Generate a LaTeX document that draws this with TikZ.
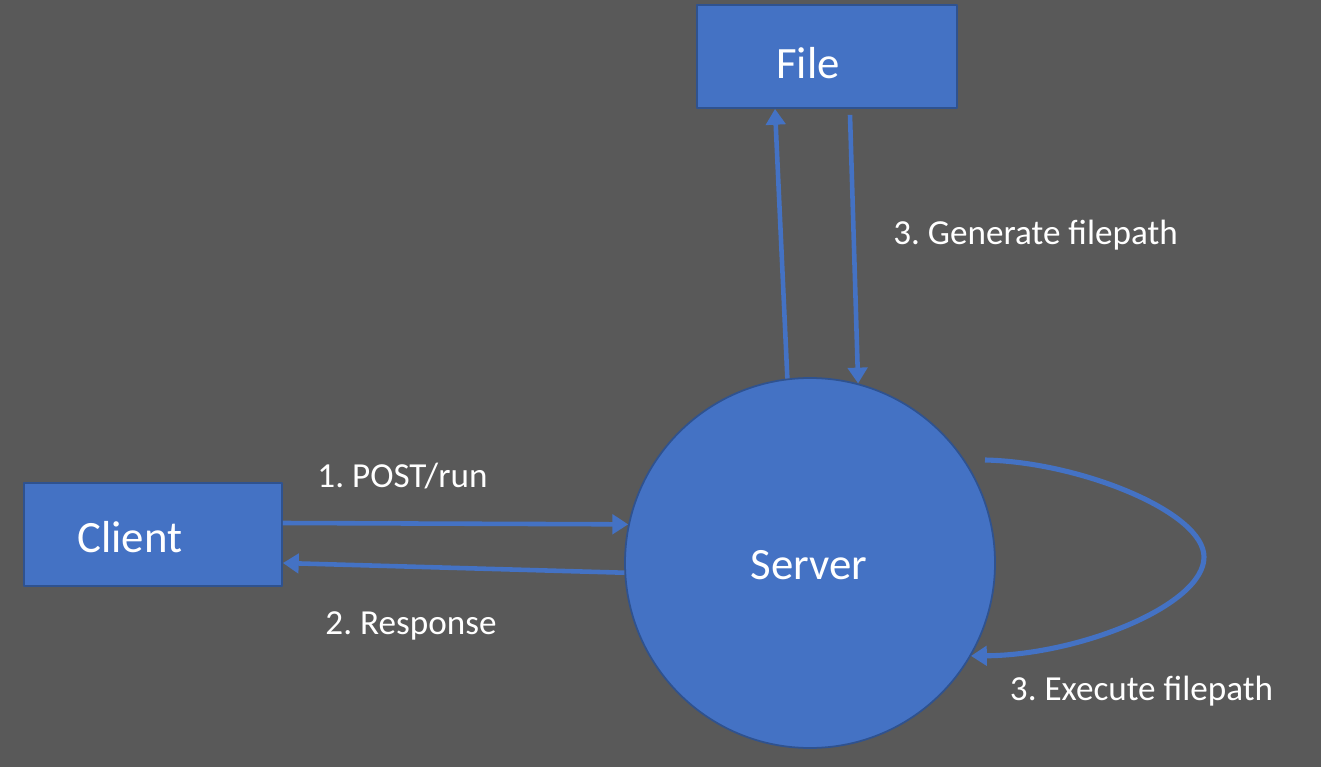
\documentclass[tikz,border=0pt]{standalone}
\usepackage{fontspec}
\setmainfont{Carlito}
\usetikzlibrary{arrows.meta}
\definecolor{slide}{HTML}{595959}
\definecolor{accent}{HTML}{4472C4}
\definecolor{accentdark}{HTML}{2F528F}
\frenchspacing
\tikzset{
  box/.style={draw=accentdark,line width=1pt,fill=accent,minimum height=20.6mm},
  srv/.style={circle,draw=accentdark,line width=1pt,fill=accent,minimum size=74mm},
  big/.style={text=white,inner sep=0pt,font=\fontsize{25.5}{30}\selectfont},
  lbl/.style={text=white,inner sep=0pt,font=\fontsize{20}{24}\selectfont},
  flow/.style={draw=accent,line width=2.6pt,->}
}
\begin{document}
\begin{tikzpicture}[x=0.2mm,y=0.2mm,>={Triangle[length=9pt,width=11pt]},line join=round]
\fill[slide] (0,0) rectangle (1321,767);
\path
(985,307) coordinate (loopin)
(1204,210) coordinate (loopright)
;
% boxes and the server
\node[box,minimum width=52mm] (file) at (827,710.5) {};
\node[box,minimum width=51.6mm] (client) at (153,232.5) {};
\node[srv] (server) at (810,204) {};
\foreach \n/\x/\y/\t in {file/808/688/File,client/130/215/Client,server/809/188/Server}
\node[big,anchor=base] (\n-txt) at (\x,\y) {\t};
% connectors
\draw[flow] (server.97) -- ([xshift=-10.4mm]file.south);
\draw[flow] ([xshift=4.6mm,yshift=-1.2mm]file.south) -- (server.75);
\draw[flow] ([yshift=2.3mm]client.east) -- (server.168);
\draw[flow] (server.183) -- ([yshift=-5.7mm]client.east);
\draw[flow,line width=2.9pt] (loopin) .. controls (1080,305) and (1204,255) .. (loopright)
.. controls (1204,162) and (1080,112) .. (server.-30);
% labels
\node[lbl,anchor=base west] (generate) at (893,522) {3. Generate filepath};
\node[lbl,anchor=base] (post) at (402.5,280) {1. POST/run};
\node[lbl,anchor=base] (response) at (411,133) {2. Response};
\node[lbl,anchor=base] (execute) at (1141.5,67) {3. Execute filepath};
\end{tikzpicture}
\end{document}
